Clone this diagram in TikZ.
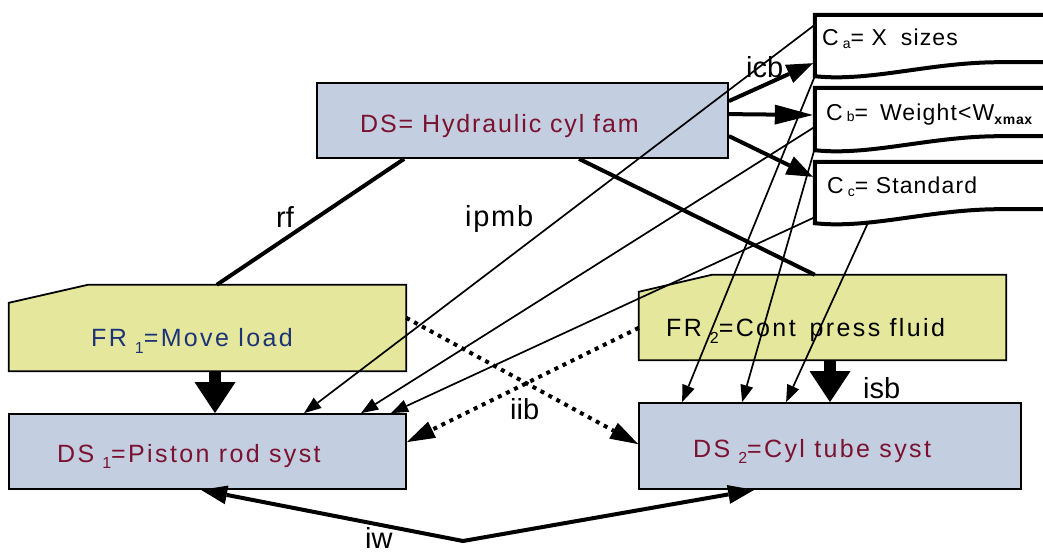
\documentclass[tikz,border=0pt]{standalone}
\usepackage{fontspec}
\setmainfont{Liberation Sans}
\usetikzlibrary{arrows.meta,calc}

\definecolor{dsfill}{RGB}{196,206,225}
\definecolor{frfill}{RGB}{229,232,156}
\definecolor{dstext}{RGB}{122,18,48}
\definecolor{frtext}{RGB}{28,52,118}

% lowered small index, e.g. the 1 of FR 1
\newcommand\lowsub[2][6pt]{\raisebox{-#1}{\fontsize{16}{16}\selectfont #2}}
\newcommand\lowsubc[2][3pt]{\raisebox{-#1}{\fontsize{14}{14}\selectfont #2}}

\tikzset{
  dsbox/.style={rectangle, inner sep=0pt, draw=black, line width=1.8pt, fill=dsfill},
  frzone/.style={rectangle, inner sep=0pt, draw=none},
  frshape/.style={draw=black, line width=1.8pt, fill=frfill},
  czone/.style={rectangle, inner sep=0pt, draw=none, minimum width=245pt},
  cshape/.style={draw=black, line width=4pt, fill=white, line join=miter},
  boxtxt/.style={anchor=base west, inner sep=0pt,
    font=\fontsize{25}{25}\selectfont\addfontfeature{LetterSpace=9.5}},
  ctxt/.style={anchor=base west, inner sep=0pt,
    font=\fontsize{23}{23}\selectfont\addfontfeature{LetterSpace=5}},
  lbl/.style={anchor=base west, inner sep=0pt, font=\fontsize{29}{29}\selectfont},
  thin/.style={line width=1.7pt, -{Triangle[length=17pt,width=13pt,line width=0pt]}},
  thick/.style={line width=4pt, -{Triangle[length=26pt,width=20pt,line width=0pt]}},
  plain/.style={line width=4pt},
  dotted link/.style={line width=4pt, dash pattern=on 4pt off 5pt,
    -{Triangle[length=28pt,width=18pt,line width=0pt]}},
  block/.style={line width=12pt, -{Triangle[length=31pt,width=41pt,line width=0pt]}},
  twoway/.style={line width=4pt, line join=miter,
    {Triangle[length=26pt,width=19pt,line width=0pt]}-{Triangle[length=26pt,width=19pt,line width=0pt]}},
}

\begin{document}
\begin{tikzpicture}[x=1pt,y=-1pt]
\useasboundingbox (0,0) rectangle (1043,554);

% design and requirement boxes
\node[dsbox, minimum width=411pt, minimum height=75pt] (ds)  at (522.5,120.5) {};
\node[dsbox, minimum width=397pt, minimum height=75pt] (ds1) at (207.5,451.5) {};
\node[dsbox, minimum width=382pt, minimum height=86pt] (ds2) at (830,446) {};
\node[frzone, minimum width=397pt, minimum height=86pt] (fr1) at (207.5,328) {};
\node[frzone, minimum width=367pt, minimum height=85pt] (fr2) at (822.5,317.5) {};

\filldraw[frshape] (fr1.south west) -- ($(fr1.north west)+(0,18)$)
  -- ($(fr1.north west)+(79,0)$) -- (fr1.north east) -- (fr1.south east) -- cycle;
\filldraw[frshape] (fr2.south west) -- ($(fr2.north west)+(0,17)$)
  -- ($(fr2.north west)+(73,0)$) -- (fr2.north east) -- (fr2.south east) -- cycle;

% constraint sheets with a wavy lower edge
\node[czone, minimum height=61pt] (ca) at (937.5,45.5) {};
\node[czone, minimum height=62pt] (cb) at (937.5,119) {};
\node[czone, minimum height=61pt] (cc) at (937.5,192.5) {};
\foreach \c in {ca,cb,cc}{
  \filldraw[cshape] (\c.north east) -- (\c.north west) -- (\c.south west)
    .. controls +(55,6) and +(-70,0) .. ($(\c.south west)+(185,-14)$)
    -- ($(\c.south east)+(0,-14)$);
}

% texts
\node[boxtxt, text=dstext, font=\fontsize{25}{25}\selectfont\addfontfeature{LetterSpace=7.5}] (tds) at (360,132) {DS= Hydraulic cyl fam};
\node[boxtxt, text=frtext] (tfr1) at (91,346) {FR\hspace{8pt}\lowsub[7pt]{1}=Move load};
\node[boxtxt, text=dstext] (tds1) at (57,462) {DS\hspace{8pt}\lowsub{1}=Piston rod syst};
\node[boxtxt] (tfr2) at (666,336) {FR\hspace{8pt}\lowsub[7pt]{2}=Cont\hspace{14pt}press fluid};
\node[boxtxt, text=dstext] (tds2) at (693,457) {DS\hspace{8pt}\lowsub{2}=Cyl tube syst};
\node[ctxt] (tca) at (822,45) {C\hspace{4pt}\lowsubc{a}= X\hspace{14pt}sizes};
\node[ctxt] (tcb) at (826,120) {C\hspace{4pt}\lowsubc[1pt]{b}=\hspace{12pt}Weight<W\lowsubc[4pt]{\bfseries xmax}};
\node[ctxt] (tcc) at (827,193) {C\hspace{4pt}\lowsubc{c}= Standard};

% link labels
\node[lbl] (licb) at (746,77) {icb};
\node[lbl, font=\fontsize{29}{29}\selectfont\addfontfeature{LetterSpace=6}] (lipmb) at (465,226) {ipmb};
\node[lbl] (lrf) at (276,227) {rf};
\node[lbl] (liib) at (510,419) {iib};
\node[lbl] (lisb) at (863,398) {isb};
\node[lbl] (liw) at (365,548) {iw};

% links from the top design
\draw[plain] ($(ds.south west)+(88,0)$) -- ($(fr1.north west)+(208,0)$);
\draw[plain] ($(ds.south west)+(263,0)$) -- ($(fr2.north west)+(176,0)$);
\draw[thick] ($(ds.north east)+(0,19)$) -- ($(ca.south west)+(-2,-13)$);
\draw[line width=4pt, -{Triangle[length=38pt,width=20pt,line width=0pt]}]
  ($(ds.north east)+(0,32)$) -- ($(cb.west)+(-2,-4)$);
\draw[thick] ($(ds.north east)+(0,54)$) -- ($(cc.north west)+(-2,15)$);

% requirements to their design parameters
\draw[block] (fr1.south) ++(7.5,0) coordinate (b1) (b1) -- (b1 |- ds1.north);
\draw[block] (fr2.south) ++(7.5,0) coordinate (b2) (b2) -- (b2 |- ds2.north);

% constraints acting on the sub-designs
\draw[thin] ($(ca.north west)+(0,10)$) -- ($(ds1.north west)+(296,0)$);
\draw[thin] (ca.south west) -- ($(ds2.north west)+(44,0)$);
\draw[thin] ($(cb.north west)+(0,39)$) -- ($(ds1.north west)+(353,0)$);
\draw[thin] ($(cb.south west)+(0,-2)$) -- ($(ds2.north west)+(104,0)$);
\draw[thin] ($(cc.south west)+(0,-6)$) -- ($(ds1.north west)+(383,0)$);
\draw[thin] ($(cc.south west)+(53,0)$) -- ($(ds2.north west)+(148,0)$);

% cross interactions
\draw[dotted link] ($(fr1.north east)+(0,33)$) -- ($(ds2.north west)+(0,42)$);
\draw[dotted link] ($(fr2.north west)+(0,53)$) -- ($(ds1.north east)+(0,29)$);

% interface between the two sub-designs
\coordinate (iwv) at (463,541);
\draw[twoway] ($(ds1.south west)+(193,0)$) -- (iwv) -- ($(ds2.south west)+(116,0)$);
\end{tikzpicture}
\end{document}
